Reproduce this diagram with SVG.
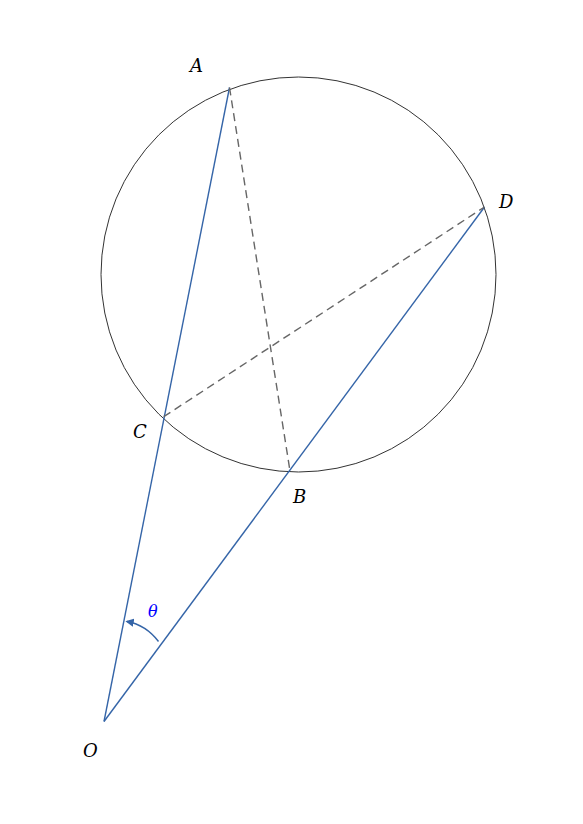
<svg xmlns="http://www.w3.org/2000/svg" width="583" height="824" viewBox="0 0 583 824">
<style>
.lbl{font-family:"DejaVu Serif","Liberation Serif",serif;font-style:italic;font-size:18px;fill:#000}
.blue{stroke:#3565a8;stroke-width:1.4;fill:none}
.dash{stroke:#666;stroke-width:1.4;stroke-dasharray:8,5;fill:none}
</style>
<defs>
<marker id="ah" viewBox="0 0 10 10" refX="8" refY="5" markerWidth="6" markerHeight="6" orient="auto">
<path d="M0,0 L10,5 L0,10 z" fill="#3565a8"/>
</marker>
</defs>
<rect width="583" height="824" fill="#fff"/>
<g id="circle"><circle cx="298.5" cy="274.5" r="197.5" fill="none" stroke="#333" stroke-width="1"/></g>
<g id="connectors">
<line class="blue" x1="104" y1="721.5" x2="229.5" y2="87.5"/>
<line class="blue" x1="104" y1="721.5" x2="484.5" y2="207"/>
<line class="dash" x1="229.5" y1="87.5" x2="290" y2="471"/>
<line class="dash" x1="163.7" y1="416.7" x2="484.5" y2="207"/>
<path class="blue" d="M158.5,641.5 Q146,625 127,621.5" marker-end="url(#ah)"/>
</g>
<g id="labels">
<text class="lbl" x="190" y="72">A</text>
<text class="lbl" x="499" y="208">D</text>
<text class="lbl" x="133" y="438">C</text>
<text class="lbl" x="293" y="503">B</text>
<text class="lbl" x="83" y="757">O</text>
<text class="lbl" x="148" y="617" style="fill:#0000ff;font-size:16px">θ</text>
</g>
</svg>
